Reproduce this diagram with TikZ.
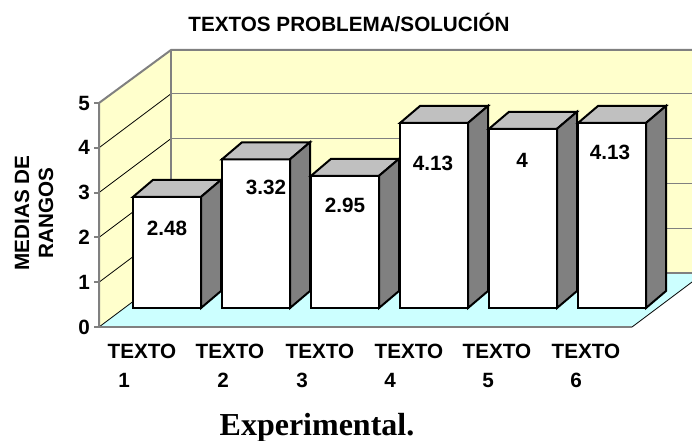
\documentclass[tikz,border=0pt]{standalone}
\usepackage{fontspec}
\setmainfont{Liberation Serif}
\setsansfont{Liberation Sans}
\definecolor{wallyellow}{HTML}{FFFFCC}
\definecolor{floorcyan}{HTML}{CCFFFF}
\definecolor{edgegray}{HTML}{808080}
\definecolor{topgray}{HTML}{C0C0C0}
\tikzset{
  chartfont/.style={font=\sffamily\bfseries\fontsize{15.5}{18}\selectfont, inner sep=0pt},
  walledge/.style={draw=edgegray, line width=1.5pt},
  gridback/.style={draw=edgegray, line width=1pt},
  gridside/.style={draw=black, line width=0.6pt},
  barface/.style={draw=black, line width=1.5pt, line join=miter},
}
\begin{document}
\begin{tikzpicture}[x=0.75pt,y=-0.75pt]
\useasboundingbox (0,0) rectangle (692,441);

% walls and floor
\fill[wallyellow] (171,50) rectangle (692,273);
\fill[wallyellow] (99,327) -- (99,103) -- (171,50) -- (171,273) -- cycle;
\fill[floorcyan] (99,327) -- (632,327) -- (692,282) -- (692,273) -- (171,273) -- cycle;
\foreach \v in {1,...,4}{
  \draw[gridback] (171,273-44.8*\v) -- (692,273-44.8*\v);
  \draw[gridside] (99,327-44.8*\v) -- (171,273-44.8*\v);
}
\draw[gridback] (171,50) -- (171,273) -- (692,273);
\draw[gridside] (99,327) -- (171,273);
\draw[gridside] (632,327) -- (692,282);
\draw[walledge] (99,327) -- (632,327);
\draw[walledge] (99,327) -- (99,103) -- (171,50) -- (692,50);

% axis
\foreach \v in {0,...,5}{
  \draw[walledge] (94,327-44.8*\v) -- (99,327-44.8*\v);
  \node[chartfont] (tick\v) at (84,327-44.8*\v) {\v};
}
\node[chartfont, rotate=90, align=center] (ylab) at (34,213) {MEDIAS DE\\RANGOS};

% bars
\foreach \v [count=\i] in {2.48,3.32,2.95,4.13,4,4.13}{
  \pgfmathsetmacro\L{44+89*\i}
  \pgfmathsetmacro\T{308-44.8*\v}
  \draw[barface, fill=white] (\L,308) rectangle (\L+68,\T);
  \draw[barface, fill=topgray] (\L,\T) -- (\L+20,\T-17) -- (\L+88,\T-17) -- (\L+68,\T) -- cycle;
  \draw[barface, fill=edgegray] (\L+68,308) -- (\L+68,\T) -- (\L+88,\T-17) -- (\L+88,291) -- cycle;
}
\foreach \txt/\x/\y [count=\i] in {2.48/167/228, 3.32/266/187, 2.95/345/205,
    4.13/433/163, 4/522/160, 4.13/610/152}
  \node[chartfont] (val\i) at (\x,\y) {\txt};

% categories
\foreach \x/\nx [count=\i] in {142/124, 230/223, 320/302, 409/390, 497/488, 586/576}{
  \node[chartfont] (cat\i) at (\x,351) {TEXTO};
  \node[chartfont] (num\i) at (\nx,380) {\i};
}

\node[chartfont, anchor=base] (title) at (349,32) {TEXTOS PROBLEMA/SOLUCIÓN};
\node[font=\bfseries\fontsize{24}{28}\selectfont, inner sep=0pt, anchor=base] (caption) at (317,435) {Experimental.};
\end{tikzpicture}
\end{document}
